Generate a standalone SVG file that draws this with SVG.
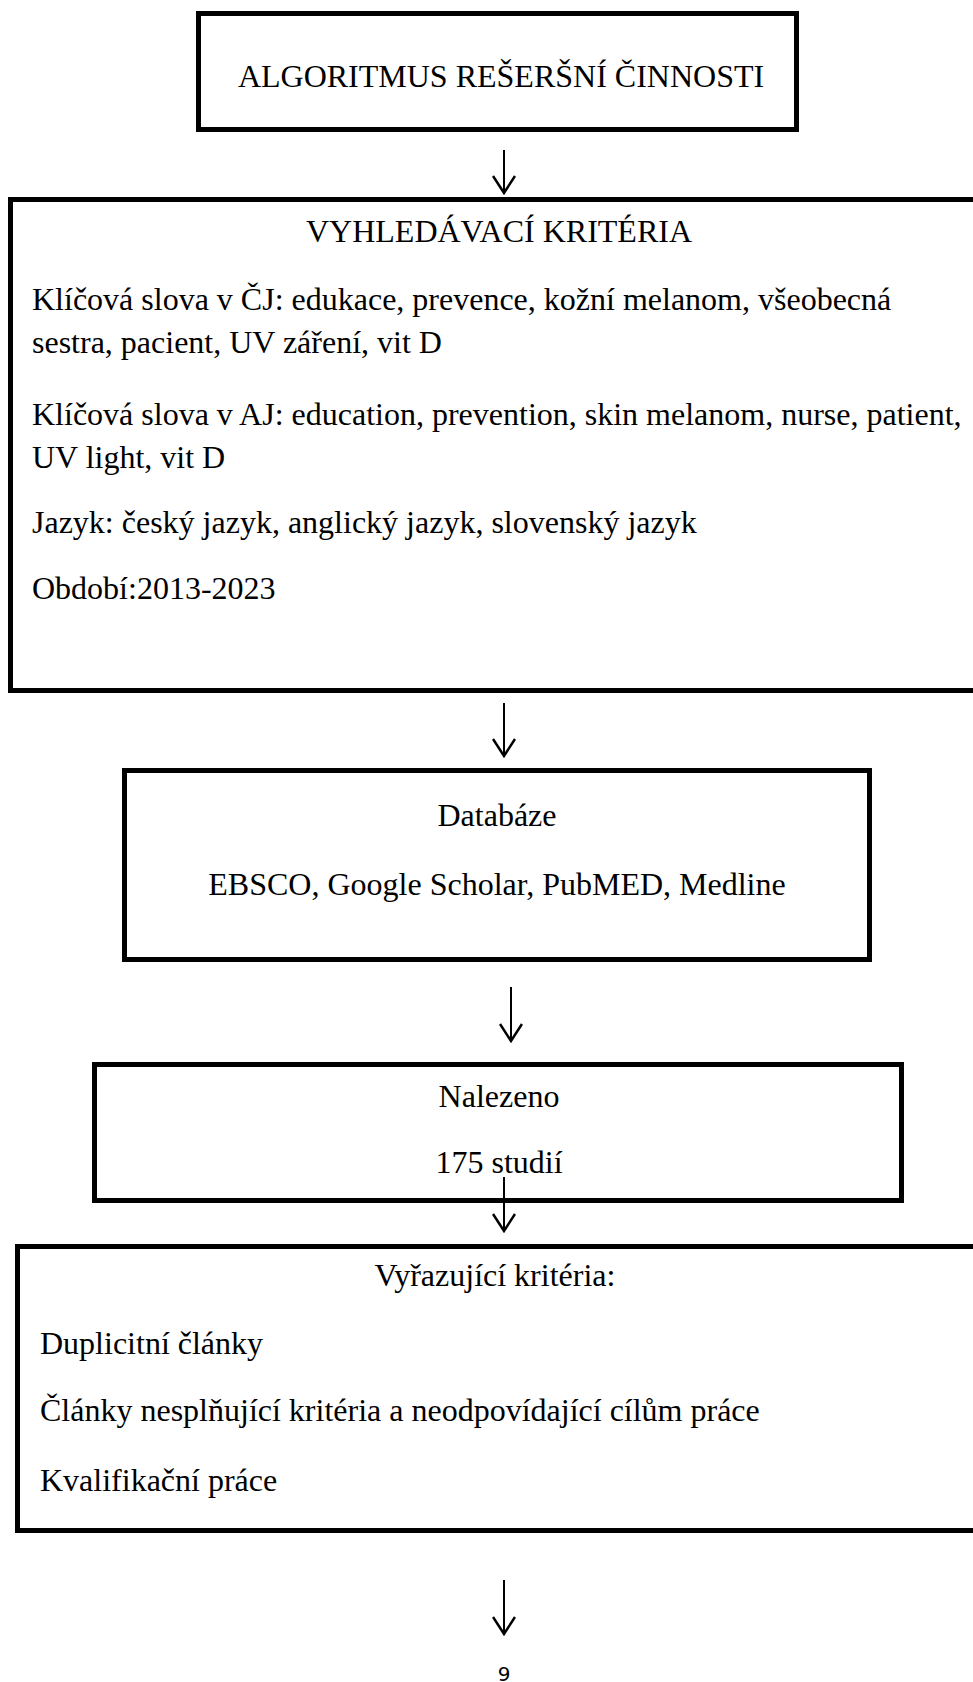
<svg xmlns="http://www.w3.org/2000/svg" width="973" height="1682" viewBox="0 0 973 1682">
<defs>
<style>
.box{fill:#fff;stroke:#000;stroke-width:5}
.arr{stroke:#000;stroke-width:2;fill:none}
.t{font-family:'Liberation Serif','Times New Roman',serif;font-size:32px;fill:#000}
.c{text-anchor:middle}
.pg{font-family:'DejaVu Sans',sans-serif;font-size:20px;fill:#000;text-anchor:middle}
</style>
<marker id="ah" viewBox="0 0 20 24" refX="18" refY="12" markerWidth="20" markerHeight="24" markerUnits="userSpaceOnUse" orient="auto">
<path d="M1,1 L18,12 L1,23" fill="none" stroke="#000" stroke-width="2.5"/>
</marker>
</defs>
<rect width="973" height="1682" fill="#fff"/>
<g id="n1">
<rect class="box" x="198.5" y="13.5" width="598" height="116"/>
<text class="t c" x="501" y="87">ALGORITMUS REŠERŠNÍ ČINNOSTI</text>
</g>
<g id="n2">
<rect class="box" x="10.5" y="199.5" width="980" height="491"/>
<text class="t c" x="499" y="242">VYHLEDÁVACÍ KRITÉRIA</text>
<text class="t" x="32" y="310">Klíčová slova v ČJ: edukace, prevence, kožní melanom, všeobecná</text>
<text class="t" x="32" y="353">sestra, pacient, UV záření, vit D</text>
<text class="t" x="32" y="425">Klíčová slova v AJ: education, prevention, skin melanom, nurse, patient,</text>
<text class="t" x="32" y="468">UV light, vit D</text>
<text class="t" x="32" y="533">Jazyk: český jazyk, anglický jazyk, slovenský jazyk</text>
<text class="t" x="32" y="599">Období:2013-2023</text>
</g>
<g id="n3">
<rect class="box" x="124.5" y="770.5" width="745" height="189"/>
<text class="t c" x="497" y="826">Databáze</text>
<text class="t c" x="497" y="895">EBSCO, Google Scholar, PubMED, Medline</text>
</g>
<g id="n4">
<rect class="box" x="94.5" y="1064.5" width="807" height="136"/>
<text class="t c" x="499" y="1107">Nalezeno</text>
<text class="t c" x="499" y="1173">175 studií</text>
</g>
<g id="n5">
<rect class="box" x="17.5" y="1246.5" width="980" height="284"/>
<text class="t c" x="495" y="1286">Vyřazující kritéria:</text>
<text class="t" x="40" y="1354">Duplicitní články</text>
<text class="t" x="40" y="1421">Články nesplňující kritéria a neodpovídající cílům práce</text>
<text class="t" x="40" y="1491">Kvalifikační práce</text>
</g>
<g id="connectors">
<line class="arr" x1="504" y1="150" x2="504" y2="193" marker-end="url(#ah)"/>
<line class="arr" x1="504" y1="703" x2="504" y2="756" marker-end="url(#ah)"/>
<line class="arr" x1="511" y1="987" x2="511" y2="1041" marker-end="url(#ah)"/>
<line class="arr" x1="504" y1="1177" x2="504" y2="1231" marker-end="url(#ah)"/>
<line class="arr" x1="504" y1="1580" x2="504" y2="1634" marker-end="url(#ah)"/>
</g>
<text class="pg" x="504" y="1681">9</text>
</svg>
